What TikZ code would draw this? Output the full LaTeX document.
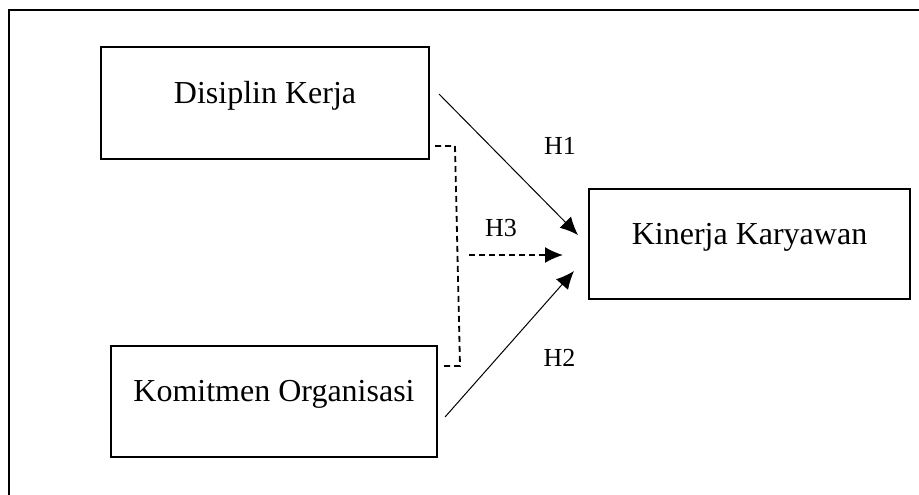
\documentclass[tikz,border=0pt]{standalone}
\usepackage{fontspec}
\setmainfont{Liberation Serif}
\usetikzlibrary{arrows.meta}
\tikzset{
  varbox/.style={draw, line width=1pt, inner sep=0pt, font=\fontsize{16}{19}\selectfont},
  hlabel/.style={font=\fontsize{13}{15}\selectfont, inner sep=0pt},
  hpath/.style={line width=0.5pt, -{Latex[length=9pt,width=8pt]}},
  mpath/.style={line width=0.9pt, dash pattern=on 3pt off 2pt}
}
\begin{document}
\begin{tikzpicture}[x=0.5pt,y=-0.5pt]
      \useasboundingbox (0,0) rectangle (919,494);
      \draw[line width=1pt] (935,10) -- (9,10) -- (9,510);
      \draw
        (265,103) node[varbox, minimum width=164pt, text height=28pt, text depth=28pt] (dk){Disiplin Kerja}
        (274,401.5) node[varbox, minimum width=163pt, text height=27.75pt, text depth=27.75pt] (ko){Komitmen Organisasi}
        (749.5,244) node[varbox, minimum width=160.5pt, text height=27.5pt, text depth=27.5pt] (kk){Kinerja Karyawan};
      \coordinate (h1s) at (439,94);
      \coordinate (h1e) at (578,235);
      \coordinate (h2s) at (445,417);
      \coordinate (h2e) at (574,271);
      \coordinate (h3s) at (469,255);
      \coordinate (h3e) at (563,255);
      \coordinate (m1) at (435,146);
      \coordinate (m2) at (455,146);
      \coordinate (m3) at (460,366);
      \coordinate (m4) at (443,366);
      \begin{scope}[hpath]
        \draw (h1s) to (h1e);
        \draw (h2s) to (h2e);
      \end{scope}
      \begin{scope}[mpath]
        \draw (m1) -- (m2) -- (m3) -- (m4);
        \draw[-{Latex[length=9pt,width=8pt]}] (h3s) to (h3e);
      \end{scope}
      \draw
        (560,145.5) node[hlabel] (h1){H1}
        (559.5,357.5) node[hlabel] (h2){H2}
        (501,228.5) node[hlabel] (h3){H3};
    \end{tikzpicture}
\end{document}
